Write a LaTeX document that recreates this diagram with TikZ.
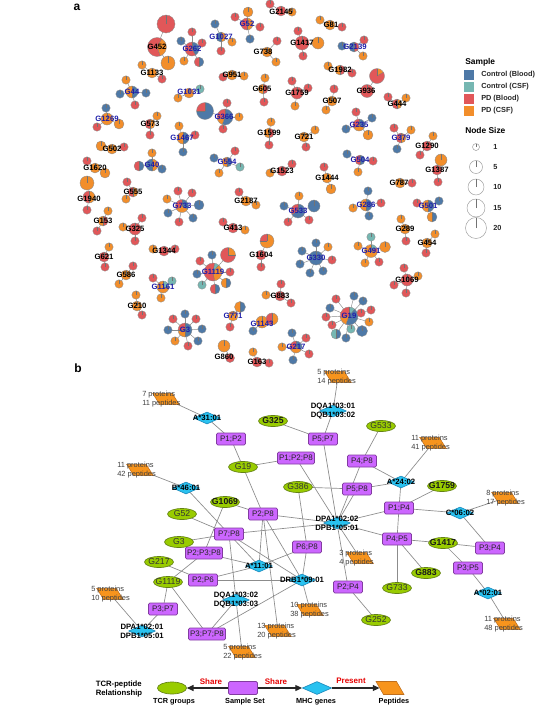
\documentclass[tikz,border=0pt]{standalone}
\usepackage{fontspec}
\setmainfont{Liberation Sans}
\usetikzlibrary{shapes.geometric,arrows.meta}
\pgfdeclarelayer{bg}
\pgfsetlayers{bg,main}
\definecolor{cb}{RGB}{78,121,167}
\definecolor{cc}{RGB}{118,183,178}
\definecolor{pb}{RGB}{225,87,89}
\definecolor{pc}{RGB}{242,142,43}
\definecolor{gblue}{RGB}{30,30,170}
\definecolor{sspurple}{RGB}{204,102,255}
\definecolor{ssborder}{RGB}{130,60,160}
\definecolor{tcrgreen}{RGB}{153,204,0}
\definecolor{tcrborder}{RGB}{100,130,20}
\definecolor{mhcblue}{RGB}{41,194,240}
\definecolor{mhcborder}{RGB}{30,140,190}
\definecolor{pepor}{RGB}{247,148,29}
\definecolor{pepborder}{RGB}{190,110,30}
\tikzset{
 ed/.style={draw=black!45, line width=0.35pt},
 rim/.style={draw=black!45, line width=0.25pt},
 tk/.style={draw=black!55, line width=0.25pt},
 glab/.style={font=\fontsize{5.8}{6}\selectfont\bfseries, inner sep=0pt, text=black},
 lgt/.style={font=\fontsize{6.3}{7}\selectfont\bfseries, inner sep=0pt, anchor=west},
 lgi/.style={font=\fontsize{5.5}{6}\selectfont\bfseries, inner sep=0pt, anchor=west, text=black!85},
 lsq/.style={minimum size=7.5pt, inner sep=0pt},
 bed/.style={draw=black!45, line width=0.5pt},
 sset/.style={rectangle, rounded corners=1pt, fill=sspurple, draw=ssborder, line width=0.5pt, minimum width=21.75pt, minimum height=9pt, inner xsep=1.2pt, inner ysep=0pt, font=\fontsize{6}{7}\selectfont, text=black!85},
 tcr/.style={ellipse, fill=tcrgreen, draw=tcrborder, line width=0.5pt, minimum width=21.75pt, minimum height=8.25pt, inner sep=0pt},
 tlab/.style={font=\fontsize{6.5}{7}\selectfont, text=black!80, inner sep=0pt},
 tlabb/.style={font=\fontsize{6.5}{7}\selectfont\bfseries, text=black!90, inner sep=0pt},
 mhc/.style={diamond, fill=mhcblue, draw=mhcborder, line width=0.5pt, minimum width=20pt, minimum height=9pt, inner sep=0.5pt},
 dlab/.style={font=\fontsize{5.8}{6.75}\selectfont\bfseries, align=center, inner sep=0pt},
 pep/.style={trapezium, trapezium left angle=120, trapezium right angle=60, trapezium stretches=true, fill=pepor, draw=pepborder, line width=0.4pt, minimum width=20pt, minimum height=8.5pt, inner xsep=1pt, inner ysep=1pt},
 ptxt/.style={font=\fontsize{5.6}{6.75}\selectfont, text=black!75, align=left, anchor=west, inner sep=0pt},
 larr/.style={line width=0.9pt, draw=black!85, -{Triangle[length=5pt,width=4.5pt]}},
 lred/.style={font=\fontsize{6}{7}\selectfont\bfseries, text=red!90!black, inner sep=0pt},
 lbot/.style={font=\fontsize{5.5}{6}\selectfont\bfseries, inner sep=0pt},
}
\newcommand\pchart[4]{%
 \foreach \segA/\segB/\segC in {#4}{%
  \fill[\segC] (#1,-#2) -- ++({90-\segA}:#3) arc[start angle={90-\segA}, end angle={90-\segB}, radius=#3] -- cycle;}%
 \foreach \segA/\segB/\segC in {#4}{\draw[tk] (#1,-#2) -- ++({90-\segA}:#3);}%
 \draw[rim] (#1,-#2) circle[radius=#3];}
\newcommand\hb[4]{\coordinate (h) at (#1,-#2);\pchart{#1}{#2}{#3}{#4}}
\newcommand\ndm[4]{\begin{pgfonlayer}{bg}\draw[ed] (h) -- (#1,-#2);\end{pgfonlayer}\pchart{#1}{#2}{#3}{#4}}
\newcommand\nd[3]{\ndm{#1}{#2}{4.2}{0/360/#3}}
\newcommand\gla[3]{\node[glab] at (#1,-#2) {#3};}
\newcommand\glb[3]{\node[glab,text=gblue] at (#1,-#2) {#3};}
\newcommand\tcrn[5]{\node[tcr] (#1) at (#2,-#3) {}; \node[#5] (#1t) at (#1) {#4};}
\newcommand\ssn[4]{\node[sset] (#1) at (#2,-#3) {#4};}
\newcommand\mhcn[4]{\node[mhc] (#1) at (#2,-#3) {}; \node[dlab] (#1t) at (#1) {#4};}
\newcommand\pepn[6]{\node[pep] (#1) at (#2,-#3) {}; \node[ptxt] (#1t) at (#4,-#3) {#5\\#6};}
\begin{document}
\begin{tikzpicture}[x=0.75pt,y=0.75pt]
\begin{pgfonlayer}{bg}
\fill[white] (0,0) rectangle (550,-714);
\end{pgfonlayer}
\useasboundingbox (0,0) rectangle (550,-714);
\node[font=\fontsize{9}{10}\selectfont\bfseries] (la) at (77,-7) {a};
\node[font=\fontsize{9}{10}\selectfont\bfseries] (lb) at (78,-368) {b};
% ---------- panel a ----------
\hb{157}{47}{9.5}{30/160/pc,160/390/pb}\ndm{166}{24}{9}{0/360/pb}\ndm{168}{63}{7}{0/360/pc}\gla{157}{47}{G452}
\hb{192}{49}{7}{0/150/cb,150/360/pb}\nd{192}{32}{pb}\nd{181}{41}{cb}\nd{202}{43}{pb}\nd{184}{61}{pc}\ndm{199}{62}{4.8}{0/180/cb,180/360/pb}\glb{192}{49}{G262}
\hb{221}{37}{5}{0/180/pc,180/360/cb}\nd{215}{24}{cb}\nd{232}{42}{pc}\nd{221}{51}{pb}\glb{221}{37}{G1027}
\hb{247}{24}{6}{0/180/pc,180/360/pb}\ndm{248}{12}{5}{0/360/pc}\nd{235}{17}{pb}\nd{260}{27}{pb}\nd{250}{39}{cb}\glb{247}{24}{G52}
\hb{281}{11}{5}{0/360/pb}\nd{292}{12}{pc}\nd{270}{4}{pb}\gla{281}{12}{G2145}
\hb{330}{25}{5}{0/360/pc}\nd{320}{20}{pc}\nd{342}{27}{pb}\gla{331}{25}{G81}
\hb{267}{52}{5}{0/360/pc}\nd{277}{41}{pb}\nd{276}{62}{pc}\gla{263}{52}{G738}
\hb{302}{43}{7}{0/360/pb}\nd{298}{31}{pb}\ndm{318}{43}{6}{0/360/pc}\nd{303}{56}{pb}\gla{302}{43}{G1417}
\hb{354}{47}{5}{0/180/pb,180/360/cb}\nd{342}{46}{cb}\nd{364}{40}{pb}\nd{363}{56}{pc}\glb{355}{47}{G2139}
\hb{152}{73}{5}{0/360/pc}\nd{142}{65}{pc}\nd{162}{79}{pb}\gla{152}{73}{G1133}
\hb{232}{75}{5}{0/360/pc}\nd{223}{77}{pb}\nd{244}{76}{pc}\gla{232}{75}{G951}
\hb{263}{89}{5}{0/180/pb,180/360/pc}\nd{265}{78}{pc}\nd{264}{102}{pb}\gla{262}{89}{G605}
\hb{297}{93}{6}{0/360/pb}\nd{292}{81}{pb}\nd{308}{88}{pb}\nd{295}{106}{pc}\gla{297}{93}{G1759}
\hb{332}{101}{5}{0/360/pc}\nd{334}{89}{pb}\nd{326}{110}{pc}\gla{332}{101}{G507}
\hb{340}{70}{5}{0/180/pb,180/360/pc}\nd{328}{66}{pc}\nd{352}{73}{pb}\gla{340}{70}{G1982}
\hb{367}{91}{6.5}{0/360/pb}\ndm{377}{76}{7.5}{0/60/pc,60/360/pb}\gla{366}{91}{G936}
\hb{397}{104}{5}{0/180/pc,180/360/pb}\nd{388}{97}{pb}\nd{406}{98}{pc}\gla{397}{104}{G444}
\hb{132}{92}{6}{0/180/cb,180/360/pc}\nd{126}{80}{pc}\nd{120}{94}{cb}\nd{146}{93}{cb}\nd{135}{105}{pb}\glb{132}{92}{G44}
\hb{189}{93}{5}{0/360/pc}\nd{178}{98}{pc}\nd{200}{89}{cc}\glb{189}{92}{G1031}
\hb{225}{117}{8}{0/200/cb,200/250/pc,250/360/pb}\ndm{205}{111}{8.5}{0/270/cb,270/360/pb}\nd{227}{103}{pb}\nd{239}{117}{pc}\nd{223}{129}{pb}\glb{224}{117}{G366}
\hb{107}{119}{6}{0/360/pc}\nd{106}{108}{cb}\nd{97}{127}{pb}\ndm{119}{124}{5}{0/360/pc}\glb{107}{119}{G1269}
\hb{150}{124}{5}{0/180/pc,180/360/pb}\nd{157}{116}{pc}\nd{150}{135}{pb}\gla{150}{124}{G573}
\hb{183}{138}{6}{0/180/cb,180/360/pc}\nd{179}{126}{pc}\nd{195}{135}{pb}\nd{183}{152}{cb}\glb{182}{138}{G1467}
\hb{269}{133}{5}{0/180/pb,180/360/pc}\nd{271}{122}{pc}\nd{269}{145}{pb}\gla{269}{133}{G1599}
\hb{304}{137}{5}{0/360/pc}\nd{315}{130}{pc}\nd{306}{147}{pb}\gla{304}{137}{G721}
\hb{359}{125}{6}{0/120/cb,120/240/pc,240/360/pb}\nd{356}{112}{pb}\nd{372}{118}{cb}\nd{346}{129}{cb}\ndm{368}{135}{5}{0/360/pc}\glb{359}{125}{G235}
\hb{401}{138}{5}{0/180/pc,180/360/pb}\nd{394}{128}{pb}\nd{411}{130}{pc}\nd{397}{149}{cb}\glb{401}{138}{G379}
\hb{427}{146}{5}{0/360/pb}\nd{433}{136}{pc}\nd{420}{155}{pb}\gla{427}{146}{G1290}
\hb{112}{149}{5}{0/360/pc}\ndm{101}{146}{5}{0/360/pc}\nd{124}{147}{pb}\gla{112}{149}{G502}
\hb{152}{165}{6}{0/180/pc,180/360/cb}\nd{152}{153}{pc}\ndm{139}{166}{5}{0/180/cb,180/360/pb}\nd{162}{169}{cb}\glb{152}{165}{G40}
\hb{227}{162}{5}{0/180/cb,180/360/pc}\nd{214}{158}{cb}\nd{235}{151}{pb}\nd{240}{167}{cc}\nd{219}{173}{pc}\glb{227}{162}{G554}
\hb{360}{160}{5}{0/180/cb,180/360/pb}\nd{347}{154}{cb}\nd{373}{161}{pb}\nd{358}{172}{pc}\glb{360}{160}{G504}
\hb{282}{171}{5}{0/360/pb}\nd{292}{164}{pb}\nd{270}{173}{pc}\gla{282}{171}{G1523}
\hb{327}{178}{5}{0/360/pc}\nd{324}{167}{pb}\ndm{331}{189}{5}{0/360/pc}\gla{327}{178}{G1444}
\hb{437}{170}{5}{0/360/pb}\ndm{441}{160}{6}{0/360/pc}\nd{438}{182}{pb}\gla{437}{170}{G1387}
\hb{95}{168}{5}{0/360/pc}\nd{87}{161}{pb}\ndm{105}{173}{5}{0/360/pc}\gla{95}{168}{G1620}
\hb{89}{197}{6}{0/180/pc,180/360/pb}\ndm{87}{183}{7}{0/360/pc}\nd{87}{210}{pb}\gla{89}{199}{G1940}
\hb{133}{192}{5}{0/180/pc,180/360/pb}\nd{127}{182}{pb}\nd{126}{199}{pc}\gla{133}{192}{G555}
\hb{182}{206}{6.5}{0/120/cb,120/240/pc,240/360/pb}\ndm{199}{205}{5}{0/360/cb}\nd{178}{191}{pb}\nd{192}{193}{pb}\nd{167}{199}{pc}\nd{168}{213}{cb}\nd{179}{222}{pb}\nd{193}{218}{cb}\glb{182}{206}{G733}
\hb{246}{201}{5}{0/360/pc}\nd{239}{192}{pb}\nd{256}{205}{pc}\gla{246}{201}{G2187}
\hb{298}{211}{7}{0/240/cb,240/360/pb}\ndm{314}{206}{6}{0/360/cb}\nd{299}{196}{pc}\nd{284}{206}{cb}\nd{288}{222}{pb}\nd{309}{220}{pb}\glb{298}{211}{G533}
\hb{366}{205}{6}{0/180/cb,180/360/pc}\nd{368}{191}{cb}\nd{381}{203}{pb}\nd{353}{208}{pc}\nd{369}{216}{cb}\glb{366}{205}{G286}
\hb{428}{206}{6}{0/180/cb,180/360/pc}\nd{417}{203}{pb}\nd{439}{201}{cb}\ndm{432}{217}{5}{0/180/cb,180/360/pc}\glb{428}{206}{G501}
\hb{400}{183}{5}{0/360/pc}\nd{412}{183}{pb}\gla{399}{183}{G787}
\hb{103}{221}{5}{0/180/pb,180/360/pc}\nd{108}{211}{pc}\nd{97}{231}{pb}\gla{103}{221}{G153}
\hb{135}{229}{6}{0/360/pb}\nd{123}{227}{pc}\nd{142}{218}{pb}\nd{135}{241}{pb}\gla{135}{229}{G325}
\hb{233}{228}{5}{0/360/pb}\nd{223}{222}{pb}\nd{245}{230}{pc}\gla{233}{228}{G413}
\hb{405}{229}{5}{0/360/pc}\nd{401}{219}{pc}\nd{406}{241}{pb}\gla{405}{229}{G289}
\hb{427}{243}{5}{0/360/pc}\nd{435}{234}{pc}\nd{426}{253}{pb}\gla{427}{243}{G454}
\hb{261}{255}{5}{0/360/pb}\ndm{267}{241}{7}{0/270/pc,270/360/pb}\nd{261}{267}{pb}\gla{261}{255}{G1604}
\hb{316}{258}{7}{0/360/cb}\nd{316}{243}{cb}\nd{302}{251}{cb}\nd{328}{247}{pc}\nd{300}{264}{cb}\nd{332}{260}{pb}\nd{310}{273}{cb}\nd{323}{271}{cb}\glb{316}{258}{G330}
\hb{371}{251}{6.5}{0/60/cc,60/100/pb,100/360/pc}\nd{371}{237}{cc}\nd{358}{246}{pc}\ndm{385}{247}{5.5}{0/360/pc}\nd{365}{263}{pc}\nd{379}{262}{pb}\glb{371}{251}{G491}
\hb{104}{257}{5}{0/360/pb}\nd{109}{247}{pc}\nd{105}{267}{pb}\gla{104}{257}{G621}
\hb{164}{251}{5}{0/360/pb}\nd{153}{249}{pc}\nd{175}{249}{pb}\gla{164}{251}{G1344}
\hb{213}{272}{9}{10/40/cc,40/170/pc,170/370/pb}\ndm{228}{255}{7.5}{0/90/pc,90/360/pb}\nd{212}{255}{cb}\nd{200}{261}{pb}\nd{197}{274}{cb}\nd{230}{272}{pb}\nd{202}{285}{cc}\ndm{215}{289}{5}{0/180/cb,180/360/pb}\ndm{226}{283}{5}{0/180/cb,180/360/pc}\glb{213}{272}{G1119}
\hb{126}{275}{5}{0/360/pc}\nd{133}{266}{pb}\nd{119}{284}{pc}\gla{126}{275}{G586}
\hb{163}{287}{6}{0/90/cc,90/360/pc}\nd{153}{278}{pb}\nd{172}{281}{cc}\nd{161}{298}{pc}\glb{163}{287}{G1161}
\hb{280}{296}{5}{0/360/pb}\nd{281}{284}{pb}\nd{266}{295}{pc}\nd{291}{303}{pb}\gla{280}{296}{G883}
\hb{407}{280}{6}{0/360/pb}\nd{404}{268}{pb}\nd{418}{276}{pc}\nd{394}{285}{pb}\nd{406}{293}{pb}\gla{407}{280}{G1069}
\hb{137}{306}{5}{0/360/pc}\nd{136}{295}{pc}\nd{142}{315}{pb}\gla{137}{306}{G210}
\hb{233}{316}{5}{0/360/pc}\ndm{240}{307}{5.5}{0/180/cb,180/360/pc}\nd{230}{327}{pb}\glb{233}{316}{G771}
\hb{262}{322}{6}{0/360/pc}\ndm{272}{319}{6}{0/180/pc,180/360/pb}\nd{253}{331}{cb}\glb{262}{324}{G1143}
\hb{185}{330}{7}{0/180/cb,180/270/pc,270/360/pb}\nd{185}{314}{cb}\nd{173}{319}{pb}\nd{196}{319}{pb}\nd{168}{330}{cb}\nd{202}{329}{cb}\nd{175}{341}{pc}\nd{188}{346}{pb}\nd{198}{341}{cb}\glb{185}{330}{G3}
\hb{349}{316}{9}{0/40/cc,40/200/cb,200/260/pc,260/360/pb}\nd{354}{296}{cb}\nd{363}{301}{cb}\nd{336}{299}{pb}\nd{330}{308}{cb}\nd{371}{310}{pb}\nd{326}{317}{pb}\nd{361}{313}{pb}\nd{369}{322}{pc}\nd{332}{325}{pb}\ndm{336}{334}{5}{0/180/cb,180/360/cc}\nd{351}{329}{cc}\ndm{362}{331}{5.5}{0/360/cb}\nd{346}{338}{cb}\glb{349}{316}{G19}
\hb{296}{347}{6}{0/120/cb,120/240/pc,240/360/pb}\nd{292}{333}{cb}\nd{306}{338}{pb}\nd{282}{347}{pc}\nd{309}{354}{pb}\nd{293}{360}{cb}\glb{296}{347}{G217}
\hb{230}{358}{4.5}{0/360/pb}\ndm{224}{346}{6}{0/360/pc}\gla{224}{357}{G860}
\hb{257}{362}{5}{0/360/pb}\nd{253}{352}{pc}\nd{269}{363}{pb}\gla{257}{362}{G163}
% legend a
\node[lgt] (lgSample) at (465,-62) {Sample};
\node[lsq,fill=cb] (sq1) at (469,-75) {};
\node[lsq,fill=cc] (sq2) at (469,-87) {};
\node[lsq,fill=pb] (sq3) at (469,-99) {};
\node[lsq,fill=pc] (sq4) at (469,-111) {};
\node[lgi] (sqt1) at (481,-75) {Control (Blood)};
\node[lgi] (sqt2) at (481,-87) {Control (CSF)};
\node[lgi] (sqt3) at (481,-99) {PD (Blood)};
\node[lgi] (sqt4) at (481,-111) {PD (CSF)};
\node[lgt] (lgSize) at (465,-130) {Node Size};
\foreach \yy/\rr/\tt in {147/3.5/1, 167/6.5/5, 187/8/10, 208/9/15, 228/10.5/20}{
 \draw[draw=black!40, line width=0.35pt, fill=white] (476,-\yy) circle[radius=\rr];
 \draw[tk] (476,-\yy) -- ++(0,\rr);
 \node[lgi] at (493,-\yy) {\tt};}
% ---------- panel b ----------
\pepn{pA}{166}{399}{142}{7 proteins}{11 peptides}
\pepn{pB}{140}{470}{117}{11 proteins}{42 peptides}
\pepn{pC}{338}{377}{317}{5 proteins}{14 peptides}
\pepn{pD}{433}{443}{411}{11 proteins}{41 peptides}
\pepn{pE}{505}{498}{486}{8 proteins}{17 peptides}
\pepn{pF}{360}{558}{339}{3 proteins}{4 peptides}
\pepn{pG}{310}{610}{290}{10 proteins}{38 peptides}
\pepn{pH}{278}{631}{257}{13 proteins}{20 peptides}
\pepn{pI}{242}{652}{223}{5 proteins}{22 peptides}
\pepn{pJ}{507}{624}{484}{11 proteins}{48 peptides}
\pepn{pK}{110}{594}{91}{5 proteins}{10 peptides}
\mhcn{dA31}{207}{418}{A*31:01}
\mhcn{dB46}{186}{488}{B*46:01}
\mhcn{dDQ1}{333}{411}{DQA1*03:01\\DQB1*03:02}
\mhcn{dA24}{401}{482}{A*24:02}
\mhcn{dC06}{460}{513}{C*06:02}
\mhcn{dDPA22}{337}{523}{DPA1*02:02\\DPB1*05:01}
\mhcn{dA11}{259}{566}{A*11:01}
\mhcn{dDRB}{302}{580}{DRB1*09:01}
\mhcn{dDQ2}{236}{600}{DQA1*03:02\\DQB1*03:03}
\mhcn{dDPA21}{142}{631}{DPA1*02:01\\DPB1*05:01}
\mhcn{dA02}{488}{593}{A*02:01}
\ssn{rP1P2}{231}{439}{P1;P2}
\ssn{rP5P7}{323}{439}{P5;P7}
\ssn{rP1P2P8}{296}{458}{P1;P2;P8}
\ssn{rP4P8}{362}{461}{P4;P8}
\ssn{rP5P8}{357}{489}{P5;P8}
\ssn{rP1P4}{399}{508}{P1;P4}
\ssn{rP2P8}{263}{514}{P2;P8}
\ssn{rP7P8}{229}{534}{P7;P8}
\ssn{rP6P8}{307}{547}{P6;P8}
\ssn{rP2P3P8}{204}{553}{P2;P3;P8}
\ssn{rP4P5}{397}{539}{P4;P5}
\ssn{rP3P4}{490}{548}{P3;P4}
\ssn{rP3P5}{468}{568}{P3;P5}
\ssn{rP2P6}{203}{580}{P2;P6}
\ssn{rP2P4}{348}{587}{P2;P4}
\ssn{rP3P7}{163}{609}{P3;P7}
\ssn{rP3P7P8}{207}{634}{P3;P7;P8}
\tcrn{gG325}{273}{421}{G325}{tlabb}
\tcrn{gG533}{381}{426}{G533}{tlab}
\tcrn{gG19}{243}{467}{G19}{tlab}
\tcrn{gG386}{298}{487}{G386}{tlab}
\tcrn{gG1759}{442}{486}{G1759}{tlabb}
\tcrn{gG1069}{225}{502}{G1069}{tlabb}
\tcrn{gG52}{182}{514}{G52}{tlab}
\tcrn{gG3}{179}{542}{G3}{tlab}
\tcrn{gG217}{159}{562}{G217}{tlab}
\tcrn{gG1119}{168}{582}{G1119}{tlab}
\tcrn{gG1417}{443}{543}{G1417}{tlabb}
\tcrn{gG883}{426}{573}{G883}{tlabb}
\tcrn{gG733}{397}{588}{G733}{tlab}
\tcrn{gG252}{376}{620}{G252}{tlab}
\begin{pgfonlayer}{bg}
\foreach \ea/\eb in {pA/dA31, dA31/rP1P2, rP1P2/gG19, gG19/rP1P2P8, gG19/rP2P8, gG325/rP5P7, pB/dB46, dB46/rP7P8, gG1069/rP2P8, gG1069/rP2P3P8, gG52/rP7P8, gG3/rP7P8, rP1P2P8/dDPA22, gG386/rP5P8, gG386/rP6P8, rP5P7/dDQ1, dDQ1/pC, rP5P7/dDPA22, gG533/rP4P8, rP4P8/dA24, dA24/pD, rP5P8/dA24, dDPA22/rP5P8, dDPA22/rP4P8, dA24/rP1P4, rP1P4/gG1759, rP1P4/dC06, dC06/pE, dC06/rP3P4, rP1P4/dDPA22, rP1P4/rP4P5, rP4P5/gG733, rP4P5/gG1417, rP4P5/gG883, rP4P5/dDPA22, gG1417/rP3P4, gG1417/rP3P5, rP3P5/dA02, dA02/pJ, dDPA22/pF, dDPA22/rP2P4, rP2P4/gG252, rP2P8/dDPA22, rP7P8/dDPA22, rP2P8/pH, rP2P8/dA11, rP2P8/dDRB, rP7P8/dA11, rP7P8/dDQ2, rP7P8/dDRB, rP2P3P8/dA11, gG1119/rP2P3P8, gG217/rP2P6, rP2P6/dA11, rP2P6/dDRB, rP6P8/dA11, rP6P8/dDRB, dDRB/pG, rP3P7P8/dDRB, gG1119/rP3P7, gG1119/rP3P7P8, rP3P7/dDPA21, dDPA21/pK, rP3P7P8/dDQ2, dDQ2/pI}
 {\draw[bed] (\ea.center) -- (\eb.center);}
\end{pgfonlayer}
% bottom legend
\node[lbot, align=left, font=\fontsize{5.8}{6.75}\selectfont\bfseries] (lgTitle) at (119,-689) {TCR-peptide\\Relationship};
\node[tcr, minimum height=9pt] (lgE) at (172,-688) {};
\node[sset, minimum height=9.75pt] (lgR) at (243,-688) {};
\node[mhc, minimum width=22pt, minimum height=9.75pt] (lgD) at (317,-688) {};
\node[pep, minimum width=21pt, minimum height=9.75pt] (lgP) at (390,-688) {};
\node[lbot] (lgEt) at (174,-702) {TCR groups};
\node[lbot] (lgRt) at (245,-702) {Sample Set};
\node[lbot] (lgDt) at (316,-702) {MHC genes};
\node[lbot] (lgPt) at (394,-702) {Peptides};
\draw[larr] (lgR) -- (lgE);
\draw[larr] (lgR) -- (lgD);
\draw[larr] (lgD) -- (lgP);
\node[lred] (sh1) at (211,-682) {Share};
\node[lred] (sh2) at (276,-682) {Share};
\node[lred] (sh3) at (351,-681) {Present};
\end{tikzpicture}
\end{document}
